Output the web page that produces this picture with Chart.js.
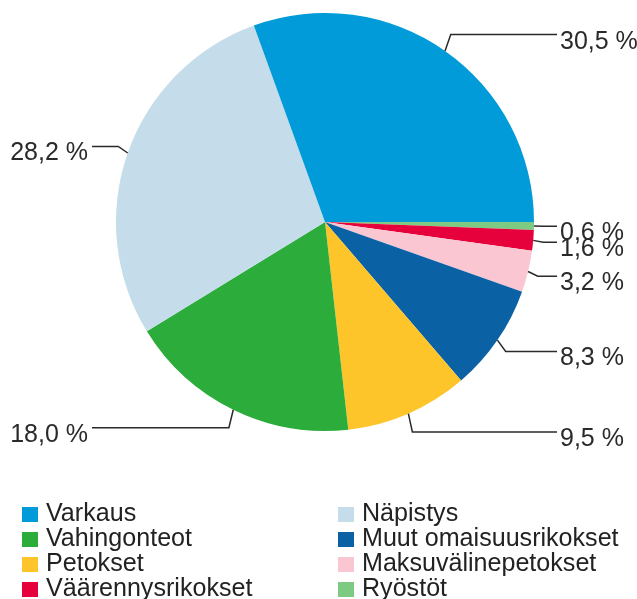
<!DOCTYPE html>
<html>
<head>
<meta charset="utf-8">
<script src="https://cdn.jsdelivr.net/npm/chart.js@4/dist/chart.umd.min.js"></script>
<style>
    body { margin: 0; background: #fff; }
    #wrap { position: relative; width: 637px; height: 599px; overflow: hidden; }
    #legend { position: absolute; left: 0; top: 0; width: 637px; height: 599px; pointer-events: none; }
    .box { position: absolute; width: 16px; height: 15px; }
    .txt {
        position: absolute; height: 25px; line-height: 25px; white-space: nowrap;
        font-family: 'Liberation Sans', Arial, sans-serif;
        font-size: 26px; color: #222;
        transform: scaleX(0.965); transform-origin: 0 0;
    }
</style>
</head>
<body>
<div id="wrap">
    <canvas id="piePic" width="637" height="599"></canvas>
    <div id="legend"></div>
</div>
<script>
// Osuudet rikoksista (%), legendan järjestyksessä
const categories = ['Varkaus', 'Näpistys', 'Vahingonteot', 'Muut omaisuusrikokset',
    'Petokset', 'Maksuvälinepetokset', 'Väärennysrikokset', 'Ryöstöt'];
const shares = [30.5, 28.2, 18.0, 8.3, 9.5, 3.2, 1.6, 0.6];
const colors = ['#009bd8', '#c5dcea', '#2cac3b', '#0a62a5',
    '#fdc52a', '#f9c6d2', '#e6003c', '#7dcb82'];

// piirtojärjestys myötäpäivään klo 3:sta alkaen
const drawOrder = ['Ryöstöt', 'Väärennysrikokset', 'Maksuvälinepetokset', 'Muut omaisuusrikokset',
    'Petokset', 'Vahingonteot', 'Näpistys', 'Varkaus'];

const idx = drawOrder.map(n => categories.indexOf(n));

// legenda (2 saraketta)
const legend = document.getElementById('legend');
categories.forEach((name, i) => {
    const col = i % 2;
    const row = Math.floor(i / 2);
    const baseline = 521 + row * 25;
    const boxX = col === 0 ? 22 : 338;
    const textX = col === 0 ? 46 : 362;

    const box = document.createElement('div');
    box.className = 'box';
    box.style.left = boxX + 'px';
    box.style.top = (baseline - 14) + 'px';
    box.style.background = colors[i];
    legend.appendChild(box);

    const txt = document.createElement('div');
    txt.className = 'txt';
    txt.style.left = textX + 'px';
    txt.style.top = (baseline - 21) + 'px';
    txt.textContent = name;
    legend.appendChild(txt);
});

// prosenttilaput viivoineen
const calloutLabels = {
    id: 'calloutLabels',
    afterDatasetsDraw(chart) {
        const ctx = chart.ctx;
        const area = chart.chartArea;
        const values = chart.data.datasets[0].data;
        const arcs = chart.getDatasetMeta(0).data;
        ctx.save();
        ctx.strokeStyle = '#2a2a2a';
        ctx.lineWidth = 1.5;
        ctx.fillStyle = '#2a2a2a';
        ctx.font = "25px 'Liberation Sans', Arial, sans-serif";
        ctx.textBaseline = 'alphabetic';
        arcs.forEach((arc, i) => {
            const p = arc.getProps(['x', 'y', 'startAngle', 'endAngle', 'outerRadius'], true);
            const mid = (p.startAngle + p.endAngle) / 2;
            const cos = Math.cos(mid), sin = Math.sin(mid);
            const right = cos >= 0;
            const x0 = p.x + p.outerRadius * cos;
            const y0 = p.y + p.outerRadius * sin;
            const x1 = p.x + (p.outerRadius + 10) * cos;
            const y1 = p.y + (p.outerRadius + 20) * sin;
            const x2 = right ? area.right + 23 : area.left - 24;

            ctx.beginPath();
            ctx.moveTo(x0, y0);
            ctx.lineTo(x1, y1);
            ctx.lineTo(x2, y1);
            ctx.stroke();

            const label = values[i].toFixed(1).replace('.', ',') + ' %';
            ctx.textAlign = right ? 'left' : 'right';
            ctx.fillText(label, right ? x2 + 3 : x2 - 4, y1 + 14);
        });
        ctx.restore();
    }
};

const ctx = document.getElementById('piePic').getContext('2d');
const piePic = new Chart(ctx, {
    type: 'pie',
    data: {
        labels: idx.map(i => categories[i]),
        datasets: [{
            data: idx.map(i => shares[i]),
            backgroundColor: idx.map(i => colors[i]),
            borderWidth: 0,
            hoverOffset: 0
        }]
    },
    options: {
        responsive: false,
        animation: false,
        rotation: 90,
        layout: { padding: { left: 116, right: 103, top: 13, bottom: 168 } },
        plugins: {
            legend: { display: false },
            tooltip: { enabled: false }
        }
    },
    plugins: [calloutLabels]
});
</script>
</body>
</html>
